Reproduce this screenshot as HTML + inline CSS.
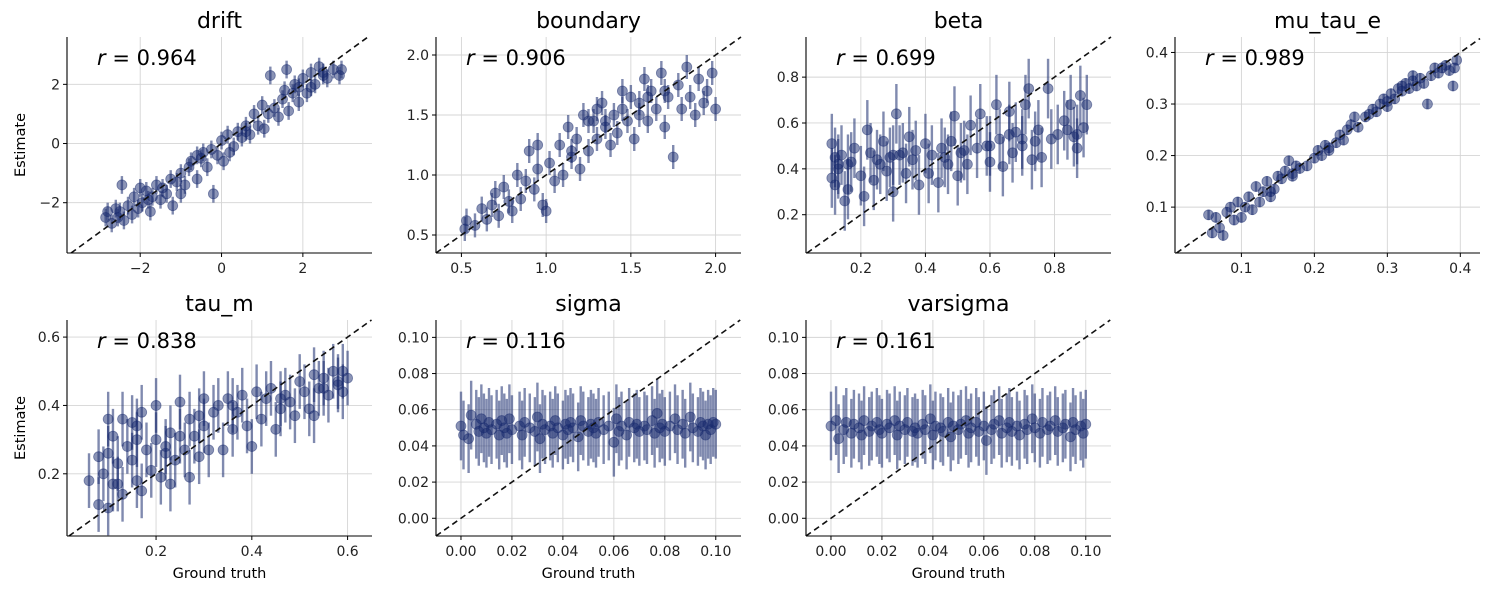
<!DOCTYPE html>
<html><head><meta charset="utf-8"><style>
html,body{margin:0;padding:0;background:#fff;width:1490px;height:590px;overflow:hidden;}
svg{display:block;font-family:"DejaVu Sans","Liberation Sans",sans-serif;}
</style></head><body>
<svg id="fig" width="1490" height="590" viewBox="0 0 1490 590"></svg>
<script>
const panelNames=["drift","boundary","beta","mu_tau_e","tau_m","sigma","varsigma"];
const rValues=["0.964","0.906","0.699","0.989","0.838","0.116","0.161"];
const driftTruth=[-2.85,-2.8,-2.7,-2.6,-2.55,-2.45,-2.4,-2.3,-2.2,-2.15,-2.05,-1.95,-1.85,-1.75,-1.7,-1.6,-1.5,-1.45,-1.35,-1.25,-1.2,-1.1,-1.0,-0.9,-0.8,-0.75,-0.6,-0.5,-0.45,-0.35,-0.25,-0.2,-0.1,0,0.05,0.15,0.3,0.4,0.5,0.6,0.7,0.8,0.9,1.0,1.05,1.15,1.2,1.3,1.4,1.5,1.55,1.65,1.75,1.8,1.9,2.0,2.1,2.2,2.3,2.4,2.5,2.6,2.75,2.9,2.95,-1.0,0.2,1.6,-2.0,2.2,-2.5,-1.8,-0.6,0.6,1.9,2.5];
const driftEst=[-2.5,-2.3,-2.7,-2.2,-2.5,-1.4,-2.6,-2.1,-2.4,-1.8,-2.2,-2.0,-1.6,-2.3,-1.8,-1.4,-1.9,-1.5,-1.7,-1.2,-2.1,-1.3,-1.0,-1.4,-0.8,-0.6,-1.2,-0.5,-0.3,-0.8,-0.2,-1.7,-0.4,0.1,-0.6,0.3,-0.1,0.4,0.2,0.6,0.3,1.0,0.6,1.3,0.5,1.0,2.3,1.2,0.9,1.5,1.8,1.1,1.7,2.0,1.4,2.2,1.7,2.4,2.0,2.6,2.3,2.2,2.5,2.3,2.5,-1.7,-0.3,2.5,-1.5,1.9,-2.3,-1.9,-0.4,0.4,1.9,2.4];
const boundaryTruth=[0.52,0.53,0.58,0.62,0.65,0.68,0.7,0.72,0.75,0.78,0.8,0.83,0.85,0.88,0.9,0.93,0.95,0.98,1.0,1.02,1.05,1.08,1.1,1.13,1.15,1.18,1.2,1.22,1.25,1.28,1.3,1.33,1.35,1.38,1.4,1.42,1.45,1.48,1.5,1.52,1.55,1.58,1.6,1.62,1.65,1.68,1.7,1.72,1.75,1.78,1.8,1.83,1.85,1.88,1.9,1.93,1.95,1.98,2.0,1.45,1.25,1.6,1.3,0.95,1.35,1.55,1.7,1.15];
const boundaryEst=[0.55,0.62,0.58,0.72,0.63,0.75,0.85,0.66,0.9,0.78,0.7,1.0,0.8,0.95,1.2,0.88,1.05,0.75,0.7,1.1,0.95,1.25,1.0,1.4,1.15,1.3,1.05,1.5,1.2,1.45,1.3,1.6,1.4,1.25,1.5,1.35,1.55,1.45,1.65,1.3,1.5,1.8,1.45,1.7,1.55,1.85,1.4,1.65,1.15,1.75,1.55,1.9,1.65,1.5,1.8,1.6,1.7,1.85,1.55,1.7,1.45,1.65,1.55,1.25,1.45,1.6,1.7,1.2];
const betaTruth=[0.11,0.11,0.12,0.12,0.13,0.14,0.15,0.16,0.17,0.18,0.2,0.21,0.22,0.23,0.24,0.26,0.27,0.28,0.29,0.3,0.31,0.32,0.34,0.35,0.36,0.37,0.38,0.4,0.41,0.42,0.44,0.45,0.47,0.48,0.49,0.5,0.51,0.53,0.54,0.56,0.57,0.59,0.6,0.62,0.63,0.64,0.66,0.67,0.68,0.7,0.71,0.72,0.73,0.75,0.76,0.78,0.79,0.81,0.83,0.85,0.86,0.87,0.88,0.89,0.9,0.87,0.3,0.16,0.6,0.7,0.13,0.25,0.33,0.46,0.52,0.66,0.74,0.84];
const betaEst=[0.36,0.51,0.45,0.33,0.40,0.46,0.26,0.31,0.43,0.49,0.37,0.28,0.57,0.47,0.35,0.42,0.52,0.39,0.45,0.30,0.64,0.46,0.38,0.54,0.44,0.48,0.33,0.51,0.38,0.46,0.34,0.49,0.42,0.52,0.63,0.37,0.47,0.42,0.59,0.49,0.64,0.50,0.43,0.68,0.53,0.41,0.65,0.47,0.56,0.50,0.68,0.75,0.44,0.57,0.45,0.75,0.53,0.55,0.61,0.68,0.54,0.49,0.72,0.58,0.68,0.55,0.46,0.42,0.50,0.53,0.42,0.44,0.47,0.45,0.48,0.55,0.52,0.57];
const muTruth=[0.055,0.06,0.065,0.07,0.075,0.08,0.085,0.09,0.095,0.1,0.105,0.11,0.115,0.12,0.125,0.13,0.135,0.14,0.145,0.15,0.155,0.16,0.165,0.17,0.175,0.18,0.19,0.2,0.205,0.21,0.215,0.22,0.23,0.235,0.24,0.245,0.25,0.255,0.26,0.27,0.275,0.28,0.285,0.29,0.295,0.3,0.305,0.31,0.315,0.32,0.325,0.33,0.335,0.34,0.345,0.35,0.355,0.36,0.365,0.37,0.375,0.38,0.385,0.39,0.392,0.395,0.335,0.3,0.14,0.17,0.22,0.32];
const muEst=[0.085,0.05,0.08,0.06,0.045,0.09,0.1,0.075,0.11,0.08,0.1,0.12,0.095,0.14,0.11,0.13,0.15,0.12,0.135,0.16,0.155,0.17,0.19,0.16,0.18,0.175,0.18,0.195,0.21,0.2,0.22,0.21,0.225,0.24,0.23,0.25,0.26,0.275,0.255,0.275,0.28,0.29,0.285,0.3,0.31,0.305,0.32,0.31,0.33,0.325,0.34,0.33,0.345,0.335,0.35,0.34,0.3,0.355,0.37,0.36,0.37,0.375,0.365,0.335,0.37,0.385,0.355,0.295,0.13,0.165,0.215,0.335];
const taumTruth=[0.06,0.08,0.08,0.09,0.1,0.1,0.1,0.11,0.11,0.12,0.13,0.13,0.14,0.15,0.15,0.16,0.16,0.17,0.17,0.18,0.19,0.2,0.2,0.21,0.22,0.23,0.23,0.24,0.25,0.25,0.26,0.27,0.27,0.28,0.29,0.3,0.3,0.31,0.32,0.33,0.34,0.35,0.36,0.37,0.38,0.39,0.4,0.41,0.42,0.44,0.45,0.46,0.47,0.48,0.49,0.5,0.51,0.52,0.53,0.54,0.55,0.56,0.57,0.58,0.59,0.6,0.59,0.53,0.46,0.12,0.16,0.22,0.29,0.36,0.43,0.55,0.58];
const taumEst=[0.18,0.25,0.11,0.2,0.1,0.26,0.36,0.31,0.17,0.23,0.36,0.14,0.28,0.35,0.24,0.3,0.18,0.15,0.38,0.27,0.21,0.3,0.4,0.19,0.26,0.32,0.17,0.24,0.31,0.41,0.27,0.36,0.19,0.31,0.25,0.42,0.34,0.27,0.38,0.4,0.27,0.42,0.33,0.38,0.43,0.34,0.28,0.44,0.36,0.45,0.33,0.39,0.43,0.41,0.37,0.47,0.44,0.39,0.49,0.45,0.48,0.43,0.5,0.46,0.44,0.48,0.5,0.37,0.42,0.17,0.34,0.28,0.37,0.4,0.42,0.45,0.47];
const sigmaTruth=[0.0,0.001,0.003,0.004,0.006,0.007,0.008,0.009,0.01,0.011,0.012,0.014,0.015,0.016,0.017,0.018,0.019,0.02,0.023,0.024,0.025,0.027,0.029,0.03,0.031,0.032,0.033,0.035,0.036,0.037,0.038,0.04,0.041,0.042,0.043,0.044,0.046,0.047,0.048,0.05,0.051,0.052,0.053,0.054,0.056,0.058,0.06,0.061,0.062,0.063,0.065,0.066,0.068,0.069,0.07,0.072,0.073,0.075,0.076,0.077,0.078,0.079,0.08,0.082,0.084,0.085,0.087,0.088,0.09,0.091,0.093,0.094,0.095,0.096,0.097,0.098,0.099,0.1];
const sigmaEst=[0.051,0.046,0.044,0.057,0.052,0.048,0.055,0.05,0.047,0.053,0.049,0.052,0.046,0.054,0.05,0.047,0.055,0.049,0.051,0.046,0.053,0.05,0.048,0.056,0.044,0.052,0.049,0.051,0.047,0.054,0.05,0.046,0.052,0.049,0.053,0.05,0.045,0.054,0.051,0.048,0.052,0.05,0.047,0.053,0.049,0.051,0.042,0.055,0.048,0.051,0.046,0.053,0.05,0.052,0.048,0.051,0.049,0.054,0.047,0.058,0.05,0.052,0.048,0.051,0.055,0.049,0.052,0.047,0.056,0.05,0.048,0.053,0.051,0.046,0.052,0.049,0.053,0.052];
const varsigmaTruth=[0.0,0.002,0.003,0.005,0.006,0.008,0.009,0.011,0.012,0.013,0.015,0.016,0.018,0.019,0.02,0.022,0.023,0.025,0.026,0.027,0.029,0.03,0.032,0.033,0.034,0.036,0.037,0.039,0.04,0.041,0.043,0.044,0.046,0.047,0.048,0.05,0.051,0.053,0.054,0.055,0.057,0.058,0.06,0.061,0.063,0.064,0.066,0.067,0.069,0.07,0.071,0.073,0.074,0.076,0.077,0.079,0.08,0.082,0.083,0.085,0.086,0.088,0.089,0.091,0.092,0.094,0.095,0.096,0.098,0.099,0.1];
const varsigmaEst=[0.051,0.054,0.044,0.049,0.053,0.047,0.052,0.05,0.046,0.054,0.048,0.051,0.053,0.049,0.047,0.052,0.05,0.054,0.046,0.051,0.049,0.053,0.048,0.05,0.047,0.052,0.049,0.055,0.046,0.051,0.05,0.048,0.053,0.045,0.051,0.049,0.052,0.054,0.047,0.05,0.053,0.048,0.051,0.043,0.049,0.052,0.054,0.047,0.05,0.053,0.048,0.051,0.046,0.052,0.049,0.055,0.05,0.047,0.053,0.049,0.051,0.054,0.048,0.05,0.052,0.045,0.053,0.049,0.051,0.047,0.052];
const errHalf=[0.3,0.1,0.13,0.01,0.08,0.019,0.019];
const xTickVals=[[-2,0,2],[0.5,1,1.5,2],[0.2,0.4,0.6,0.8],[0.1,0.2,0.3,0.4],[0.2,0.4,0.6],[0,0.02,0.04,0.06,0.08,0.1],[0,0.02,0.04,0.06,0.08,0.1]];
const xTickLabels=[["−2","0","2"],["0.5","1.0","1.5","2.0"],["0.2","0.4","0.6","0.8"],["0.1","0.2","0.3","0.4"],["0.2","0.4","0.6"],["0.00","0.02","0.04","0.06","0.08","0.10"],["0.00","0.02","0.04","0.06","0.08","0.10"]];
const yTickVals=[[-2,0,2],[0.5,1,1.5,2],[0.2,0.4,0.6,0.8],[0.1,0.2,0.3,0.4],[0.2,0.4,0.6],[0,0.02,0.04,0.06,0.08,0.1],[0,0.02,0.04,0.06,0.08,0.1]];
const yTickLabels=[["−2","0","2"],["0.5","1.0","1.5","2.0"],["0.2","0.4","0.6","0.8"],["0.1","0.2","0.3","0.4"],["0.2","0.4","0.6"],["0.00","0.02","0.04","0.06","0.08","0.10"],["0.00","0.02","0.04","0.06","0.08","0.10"]];
const truthSets=[driftTruth,boundaryTruth,betaTruth,muTruth,taumTruth,sigmaTruth,varsigmaTruth];
const estSets=[driftEst,boundaryEst,betaEst,muEst,taumEst,sigmaEst,varsigmaEst];

const xLims=[[-3.8,3.7],[0.35,2.15],[0.03,0.975],[0.009,0.427],[0.014,0.651],[-0.0098,0.1099],[-0.0098,0.1099]];
const yLims=[[-3.7,3.6],[0.35,2.15],[0.033,0.975],[0.011,0.43],[0.018,0.65],[-0.0098,0.1096],[-0.0098,0.1096]];
const lefts=[67,436,806,1175,67,436,806];
const tops=[37,37,37,37,320,320,320];
const W=305,H=216;
const NS="http://www.w3.org/2000/svg";
const fig=document.getElementById('fig');
function mk(tag,attrs,parent){const e=document.createElementNS(NS,tag);for(const k in attrs)e.setAttribute(k,attrs[k]);(parent||fig).appendChild(e);return e;}
const defs=mk('defs',{});
const col="#172a6e";
for(let p=0;p<7;p++){
  const L=lefts[p],T=tops[p];
  const xs=v=>L+(v-xLims[p][0])/(xLims[p][1]-xLims[p][0])*W;
  const ys=v=>T+H-(v-yLims[p][0])/(yLims[p][1]-yLims[p][0])*H;
  const g=mk('g',{});
  
  
  const cp=mk('clipPath',{id:'c'+p},defs);mk('rect',{x:L,y:T,width:W,height:H},cp);
  xTickVals[p].forEach((v,i)=>{const x=xs(v);
    const gl=mk('line',{x1:x,x2:x,y1:T,y2:T+H,stroke:"#d4d4d4","stroke-width":0.9},g);
    
    mk('line',{x1:x,x2:x,y1:T+H,y2:T+H+4,stroke:"#000","stroke-width":1},g);
    const t=mk('text',{x:x,y:T+H+20,"text-anchor":"middle","font-size":14,fill:"#222"},g);t.textContent=xTickLabels[p][i];
    });
  yTickVals[p].forEach((v,i)=>{const y=ys(v);
    const gl=mk('line',{x1:L,x2:L+W,y1:y,y2:y,stroke:"#d4d4d4","stroke-width":0.9},g);
    
    mk('line',{x1:L-4,x2:L,y1:y,y2:y,stroke:"#000","stroke-width":1},g);
    const t=mk('text',{x:L-7,y:y+5,"text-anchor":"end","font-size":14,fill:"#222"},g);t.textContent=yTickLabels[p][i];
    });
  const pg=mk('g',{"clip-path":"url(#c"+p+")"},g);
  const tr=truthSets[p],es=estSets[p],n=Math.min(tr.length,es.length),e=errHalf[p];
  for(let i=0;i<n;i++){
    const eb=mk('line',{x1:xs(tr[i]),x2:xs(tr[i]),y1:ys(es[i]-e),y2:ys(es[i]+e),stroke:col,"stroke-opacity":0.55,"stroke-width":2.4},pg);
    
  }
  for(let i=0;i<n;i++){
    const c=mk('circle',{cx:xs(tr[i]),cy:ys(es[i]),r:5,fill:col,"fill-opacity":0.5,stroke:col,"stroke-opacity":0.5,"stroke-width":0.8},pg);
    
  }
  const lo=Math.max(xLims[p][0],yLims[p][0]),hi=Math.min(xLims[p][1],yLims[p][1]);
  const dl=mk('line',{x1:xs(lo),y1:ys(lo),x2:xs(hi),y2:ys(hi),stroke:"#111","stroke-width":1.6,"stroke-dasharray":"6,4"},g);
  
  mk('line',{x1:L,x2:L,y1:T,y2:T+H,stroke:"#000","stroke-width":1.1},g);
  mk('line',{x1:L,x2:L+W,y1:T+H,y2:T+H,stroke:"#000","stroke-width":1.1},g);
  const tt=mk('text',{x:L+W/2,y:T-9,"text-anchor":"middle","font-size":22,fill:"#000"},g);tt.textContent=panelNames[p];
  
  const rt=mk('text',{x:L+30,y:T+28,"font-size":21,fill:"#000"},g);
  
  const ri=mk('tspan',{"font-style":"italic"},rt);ri.textContent="r";
  const rv=mk('tspan',{},rt);rv.textContent=" = "+rValues[p];
  if(p===0||p===4){const yl=mk('text',{x:0,y:0,transform:"translate(25,"+(T+H/2)+") rotate(-90)","text-anchor":"middle","font-size":14.5,fill:"#000"},g);yl.textContent="Estimate";
    }
  if(p>=4){const xl=mk('text',{x:L+W/2,y:T+H+42,"text-anchor":"middle","font-size":14.5,fill:"#000"},g);xl.textContent="Ground truth";
    }
}
</script>
</body></html>
